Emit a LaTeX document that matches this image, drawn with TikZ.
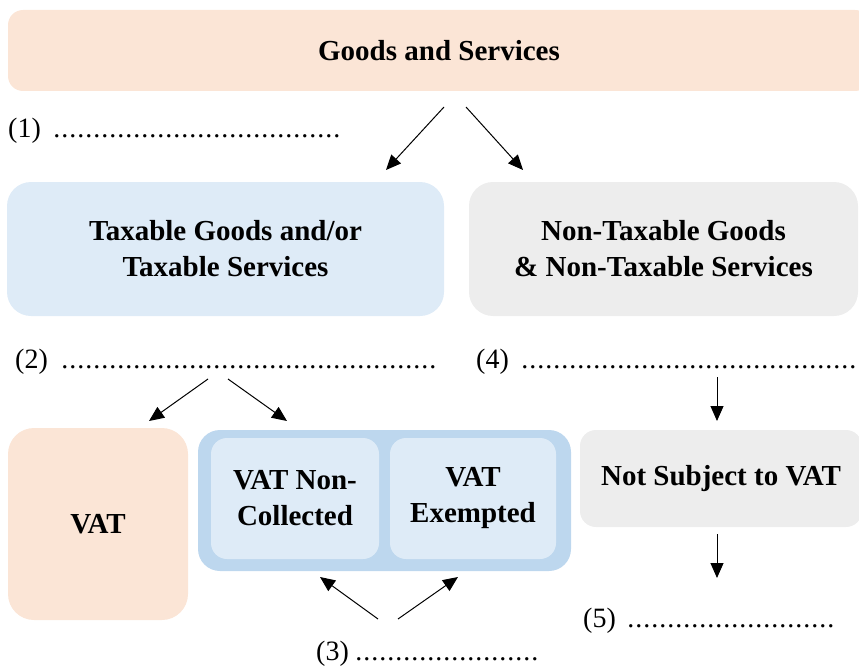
\documentclass[tikz,border=0pt]{standalone}
\usepackage{fontspec}
\setmainfont{Liberation Serif}
\usetikzlibrary{arrows.meta}
\definecolor{peach}{HTML}{FBE5D6}
\definecolor{lblue}{HTML}{DEEBF7}
\definecolor{mblue}{HTML}{BDD7EE}
\definecolor{lgray}{HTML}{EDEDED}
\newcommand{\dotrun}[1]{\makebox[#1][l]{\leaders\hbox to 8pt{\hss.\hss}\hfill}}
\tikzset{
  box/.style={draw=none, rounded corners=#1, inner sep=0pt, align=center,
    font=\fontsize{29}{36}\selectfont\bfseries},
  box/.default=20pt,
  lbl/.style={anchor=base west, inner sep=0pt, font=\fontsize{28}{30}\selectfont},
  arr/.style={line width=1pt, -{Triangle[length=15pt,width=13pt]}}
}
\begin{document}
\begin{tikzpicture}[x=1pt,y=-1pt]
\useasboundingbox (0,0) rectangle (859,666);
\clip (0,0) rectangle (859,666);
% boxes
\node[box=15pt, fill=peach, minimum width=862pt, minimum height=81pt] (gs) at (439,50.5) {Goods and Services};
\node[box=24pt, fill=lblue, minimum width=437pt, minimum height=134pt] (tax) at (225.5,249) {Taxable Goods and/or\\Taxable Services};
\node[box=24pt, fill=lgray, minimum width=389pt, minimum height=134pt] (ntax) at (663.5,249) {Non-Taxable Goods\\\& Non-Taxable Services};
\node[box=26pt, fill=peach, minimum width=180pt, minimum height=192pt] (vat) at (98,524) {VAT};
\node[box=22pt, fill=mblue, minimum width=373pt, minimum height=141pt] (grp) at (384.5,500.5) {};
\node[box=16pt, fill=lblue, minimum width=168pt, minimum height=121pt] (nc) at (295,498.5) {VAT Non-\\Collected};
\node[box=16pt, fill=lblue, minimum width=166pt, minimum height=121pt] (ex) at (473,498.5) {VAT\\Exempted};
\node[box=16pt, fill=lgray, minimum width=282pt, minimum height=97pt] (ns) at (721,478.5) {Not Subject to VAT};
% labels
\node[lbl] (l1) at (8,138) {(1)\hspace{12pt}\dotrun{292pt}};
\node[lbl] (l2) at (15,368) {(2)\hspace{13pt}\dotrun{381pt}};
\node[lbl] (l4) at (476,368) {(4)\hspace{12pt}\dotrun{350pt}};
\node[lbl] (l5) at (583,627) {(5)\hspace{11pt}\dotrun{212pt}};
\node[lbl] (l3) at (316,660) {(3)\hspace{6pt}\dotrun{186pt}};
% arrow coordinates
\coordinate (a1s) at (444,107); \coordinate (a1e) at (386,170);
\coordinate (a2s) at (466,107); \coordinate (a2e) at (523,170);
\coordinate (b1s) at (208,379); \coordinate (b1e) at (149,421);
\coordinate (b2s) at (228,379); \coordinate (b2e) at (287,421);
\coordinate (c1s) at (717,377); \coordinate (c1e) at (717,421);
\coordinate (c2s) at (717,534); \coordinate (c2e) at (717,578);
\coordinate (d1s) at (378,619); \coordinate (d1e) at (320,577);
\coordinate (d2s) at (398,619); \coordinate (d2e) at (458,577);
\draw[arr] (a1s) -- (a1e);
\draw[arr] (a2s) -- (a2e);
\draw[arr] (b1s) -- (b1e);
\draw[arr] (b2s) -- (b2e);
\draw[arr] (c1s) -- (c1e);
\draw[arr] (c2s) -- (c2e);
\draw[arr] (d1s) -- (d1e);
\draw[arr] (d2s) -- (d2e);
\end{tikzpicture}
\end{document}
